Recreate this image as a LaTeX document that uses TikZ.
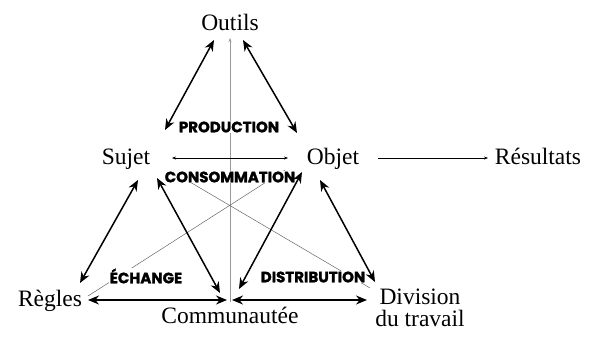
\documentclass[tikz,border=0pt]{standalone}
\usepackage{fontspec}
\setmainfont{Liberation Serif}
\newfontfamily\lblfont{Poppins}[BoldFeatures={FakeBold=1.6}]
\usetikzlibrary{arrows.meta}
\begin{document}
\begin{tikzpicture}[x=1pt,y=-1pt,
  word/.style={font=\fontsize{23.5}{22}\selectfont, inner sep=0pt, anchor=base},
  lbl/.style={font=\lblfont\bfseries\fontsize{15}{15}\selectfont, fill=white, inner sep=0.6pt},
  big/.style={line width=1.5pt, {Stealth[length=11pt,width=9pt]}-{Stealth[length=11pt,width=9pt]}},
  thin/.style={line width=0.5pt, draw=black!60},
  smallarr/.style={line width=0.5pt, {Stealth[length=4pt,width=3pt]}-{Stealth[length=4pt,width=3pt]}}
]
\useasboundingbox (0,0) rectangle (599,340);
% words
\node[word] (outils) at (230,30) {Outils};
\node[word] (sujet) at (126,164) {Sujet};
\node[word] (objet) at (333,164) {Objet};
\node[word] (res) at (538,164) {Résultats};
\node[word] (regles) at (50,306) {Règles};
\node[word] (comm) at (230,323) {Communautée};
\node[word] (div) at (420,304) {Division};
\node[word] (div2) at (420,326) {du travail};
% endpoints
\coordinate (oL) at (214,40);
\coordinate (oR) at (243,40);
\coordinate (oM) at (230,38);
\coordinate (sT) at (165,130);
\coordinate (obT) at (297,133);
\coordinate (sA) at (138,180);
\coordinate (sB) at (157,178);
\coordinate (obA) at (302,172);
\coordinate (obB) at (320,180);
\coordinate (rT) at (80,283);
\coordinate (cL) at (220,293);
\coordinate (cR) at (239,289);
\coordinate (dT) at (375,282);
\coordinate (rH) at (88,300);
\coordinate (cHL) at (227,300);
\coordinate (cHR) at (232,300);
\coordinate (dH) at (367,300);
\coordinate (cB) at (230,302);
\coordinate (sO1) at (172,158);
\coordinate (sO2) at (288,158);
\coordinate (oRes1) at (378,158);
\coordinate (oRes2) at (488,158);
\coordinate (rD) at (88,296);
\coordinate (obD) at (285,170);
\coordinate (sD) at (178,175);
\coordinate (dD) at (370,288);
% thin lines
\draw[line width=0.9pt, draw=black!40, -{Stealth[length=4pt,width=3pt]}] (cB) -- (oM);
\draw[thin] (rD) -- (obD);
\draw[thin] (sD) -- (dD);
\draw[smallarr] (sO1) -- (sO2);
\draw[line width=0.5pt, -{Stealth[length=4pt,width=3pt]}] (oRes1) -- (oRes2);
% labels
\node[lbl] (prod) at (229,127) {PRODUCTION};
\node[lbl] (cons) at (230,177) {CONSOMMATION};
\node[lbl] (ech) at (146,276) {ÉCHANGE};
\node[lbl] (dist) at (313,277) {DISTRIBUTION};
% thick arrows
\draw[big] (oL) -- (sT);
\draw[big] (oR) -- (obT);
\draw[big] (sA) -- (rT);
\draw[big] (sB) -- (cL);
\draw[big] (obA) -- (cR);
\draw[big] (obB) -- (dT);
\draw[big] (rH) -- (cHL);
\draw[big] (cHR) -- (dH);
\end{tikzpicture}
\end{document}
